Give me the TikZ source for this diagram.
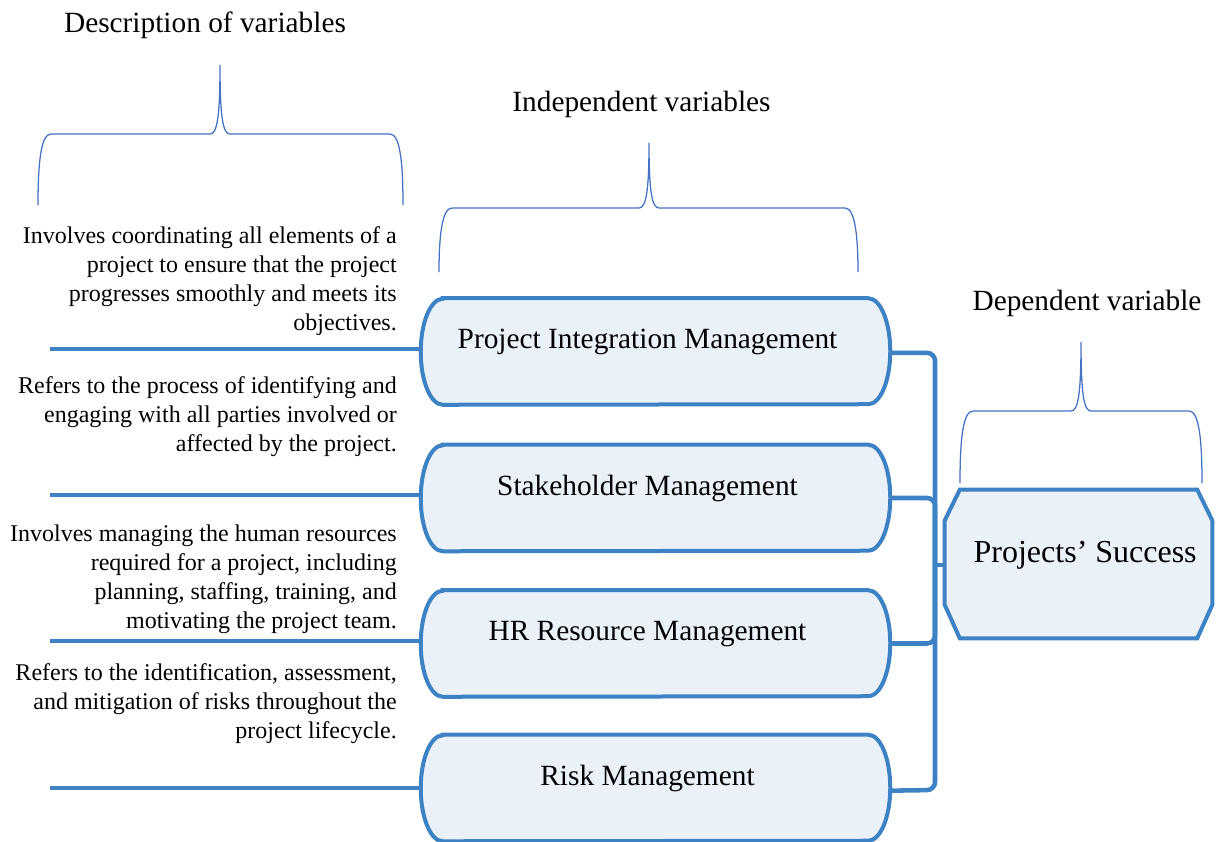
\documentclass[tikz,border=0pt]{standalone}
\usepackage{fontspec}
\setmainfont{Liberation Serif}
\usetikzlibrary{backgrounds,calc}

\definecolor{linkblue}{HTML}{3C82C4}
\definecolor{boxfill}{HTML}{EAF1F8}
\definecolor{bracecol}{HTML}{4472C4}

\tikzset{
  varbox/.style={rectangle, draw=none, inner sep=0pt, minimum width=351.75pt,
    minimum height=79.5pt, font=\fontsize{22}{26}\selectfont,
    text height=15pt, text depth=19.5pt},
  outline/.style={draw=linkblue, line width=3pt, fill=boxfill},
  conn/.style={draw=linkblue, line width=3.4pt, rounded corners=6pt},
  leftconn/.style={draw=linkblue, line width=3.6pt},
  bracestroke/.style={draw=bracecol, line width=0.95pt},
  heading/.style={font=\fontsize{22}{26}\selectfont, anchor=base},
  desc/.style={font=\fontsize{18}{21.75}\selectfont, align=right, anchor=base east, inner sep=0pt},
}

% vertical curly brace opening downwards: left x, right x, foot y, bar y, tip x, tip y
\newcommand{\upbrace}[6]{%
  \draw[bracestroke] (#1,-#3) .. controls (#1,{-(#4+28)}) and ({#1+3},-#4) .. ({#1+13},-#4)
    -- ({#5-10},-#4) .. controls ({#5-3},-#4) and (#5,{-(#4-16)}) .. (#5,-#6)
    .. controls (#5,{-(#4-16)}) and ({#5+3},-#4) .. ({#5+10},-#4)
    -- ({#2-13},-#4) .. controls ({#2-3},-#4) and (#2,{-(#4+28)}) .. (#2,-#3);}

% box outline with elliptical ends, drawn around a named node
\newcommand{\roundends}[1]{%
  \path[outline] ([xshift=16.5pt]#1.north west) -- ([xshift=-16.5pt]#1.north east)
    arc[start angle=90, end angle=-90, x radius=16.5pt, y radius=39.75pt]
    -- ([xshift=16.5pt]#1.south west)
    arc[start angle=270, end angle=90, x radius=16.5pt, y radius=39.75pt] -- cycle;}

\begin{document}
\begin{tikzpicture}[x=0.75pt, y=0.75pt]
\useasboundingbox (0,0) rectangle (1217,-842);

% headings
\node[heading] (hdesc) at (205,-33) {Description of variables};
\node[heading] (hind) at (641.5,-112) {Independent variables};
\node[heading] (hdep) at (1087,-310) {Dependent variable};

% braces
\upbrace{38}{403}{205}{134}{220}{65}
\upbrace{439}{858}{272}{208}{649}{143}
\upbrace{960}{1202}{483}{411}{1081}{342}

% independent variable boxes
\node[varbox] (b1) at (655.5,-351.5) {Project Integration Management\kern12pt};
\node[varbox] (b2) at (655.5,-498) {Stakeholder Management\kern12pt};
\node[varbox] (b3) at (655.5,-643.5) {HR Resource Management\kern12pt};
\node[varbox] (b4) at (655.5,-788) {Risk Management\kern12pt};

% dependent variable box
\node[rectangle, draw=none, inner sep=0pt, minimum width=200.25pt, minimum height=111pt,
      font=\fontsize{24}{28}\selectfont, text height=17pt, text depth=19pt] (ps) at (1078.5,-564)
      {\kern10pt Projects’ Success};

\begin{pgfonlayer}{background}
  \roundends{b1}
  \roundends{b2}
  \roundends{b3}
  \roundends{b4}
  \path[outline] ([xshift=11.25pt]ps.north west) -- ([xshift=-11.25pt]ps.north east)
    -- ([yshift=-23pt]ps.north east) -- ([yshift=25pt]ps.south east)
    -- ([xshift=-11.25pt]ps.south east) -- ([xshift=11.25pt]ps.south west)
    -- ([yshift=25pt]ps.south west) -- ([yshift=-23pt]ps.north west) -- cycle;
\end{pgfonlayer}

% descriptions (anchored at the baseline of their last line)
\node[desc] (d1) at (397,-330) {Involves coordinating all elements of a\\project to ensure that the project\\progresses smoothly and meets its\\objectives.};
\node[desc] (d2) at (397,-451) {Refers to the process of identifying and\\engaging with all parties involved or\\affected by the project.};
\node[desc] (d3) at (397,-628) {Involves managing the human resources\\required for a project, including\\planning, staffing, training, and\\motivating the project team.};
\node[desc] (d4) at (397,-738) {Refers to the identification, assessment,\\and mitigation of risks throughout the\\project lifecycle.};

% left connectors
\coordinate (l1) at (50,-349);
\coordinate (l2) at (50,-495);
\coordinate (l3) at (50,-641);
\coordinate (l4) at (50,-788);
\draw[leftconn] (l1) -- (l1 -| b1.west);
\draw[leftconn] (l2) -- (l2 -| b2.west);
\draw[leftconn] (l3) -- (l3 -| b3.west);
\draw[leftconn] (l4) -- (l4 -| b4.west);

% right-hand bus to the dependent variable
\coordinate (busbot) at (935,-790);
\coordinate (busmid) at (935,-565);
\draw[conn] ([yshift=-1pt]b1.east) -| (busbot) -- ([yshift=-2pt]b4.east);
\draw[conn] (b2.east) -| (busmid);
\draw[conn] (b3.east) -| (busmid);
\draw[conn, rounded corners=0pt] (busmid) -- (busmid -| ps.west);
\end{tikzpicture}
\end{document}
